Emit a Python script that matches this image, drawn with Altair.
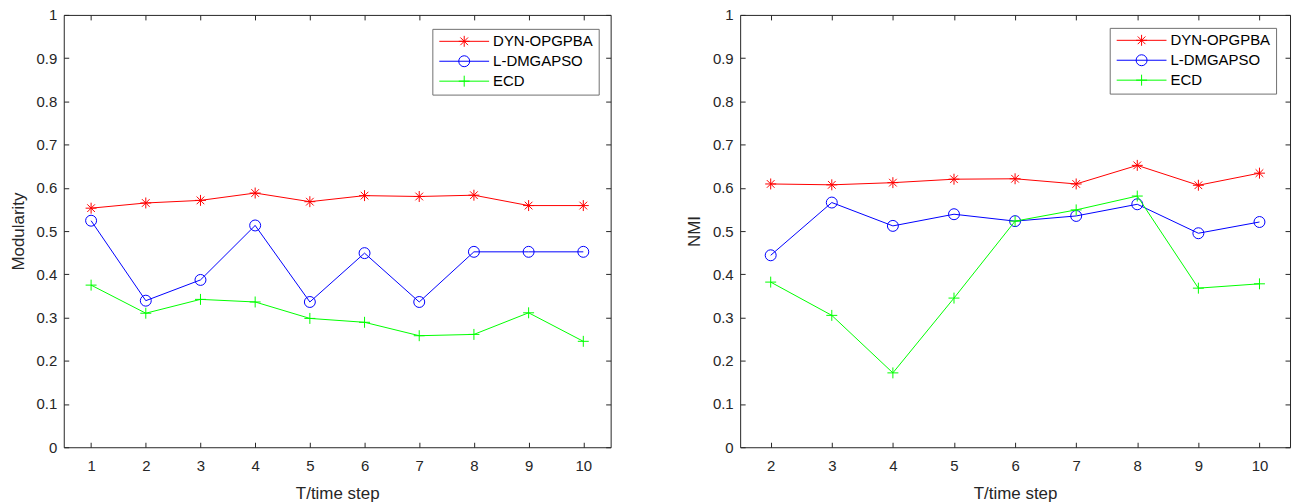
import altair as alt
import pandas as pd

series_names = ["DYN-OPGPBA", "L-DMGAPSO", "ECD"]
series_colors = ["#ff0000", "#0000ff", "#00ff00"]

steps_mod = [1, 2, 3, 4, 5, 6, 7, 8, 9, 10]
mod_dyn = [0.553, 0.565, 0.571, 0.588, 0.568, 0.582, 0.580, 0.583, 0.559, 0.559]
mod_ldm = [0.524, 0.339, 0.387, 0.513, 0.336, 0.449, 0.336, 0.452, 0.452, 0.452]
mod_ecd = [0.375, 0.310, 0.342, 0.336, 0.298, 0.289, 0.258, 0.261, 0.311, 0.245]

steps_nmi = [2, 3, 4, 5, 6, 7, 8, 9, 10]
nmi_dyn = [0.609, 0.607, 0.612, 0.620, 0.621, 0.609, 0.652, 0.606, 0.634]
nmi_ldm = [0.444, 0.566, 0.512, 0.539, 0.523, 0.535, 0.562, 0.495, 0.521]
nmi_ecd = [0.382, 0.305, 0.172, 0.345, 0.523, 0.549, 0.581, 0.368, 0.378]

y_ticks = [0, 0.1, 0.2, 0.3, 0.4, 0.5, 0.6, 0.7, 0.8, 0.9, 1]
x_title = "T/time step"

STAR = "M0,-1L0,1M-1,0L1,0M-0.7,-0.7L0.7,0.7M-0.7,0.7L0.7,-0.7"
CIRCLE = "M1,0A1,1 0 1,1 -1,0A1,1 0 1,1 1,0Z"
PLUS = "M0,-1L0,1M-1,0L1,0"
marker_paths = [STAR, CIRCLE, PLUS]

# legend glyphs: a line sample with the marker in its middle (shifted right
# so the sample starts where the legend entry starts)
LEG_LINE = "M-1,0L8.09,0"
LEG_STAR = "M3.545,-1L3.545,1M2.545,0L4.545,0M2.845,-0.7L4.245,0.7M2.845,0.7L4.245,-0.7"
LEG_CIRCLE = "M4.545,0A1,1 0 1,1 2.545,0A1,1 0 1,1 4.545,0Z"
LEG_PLUS = "M3.545,-1L3.545,1M2.545,0L4.545,0"
legend_paths = [LEG_LINE + LEG_STAR, LEG_LINE + LEG_CIRCLE, LEG_LINE + LEG_PLUS]

FONT = "Liberation Sans"
INK = "#262626"


def long_df(steps, values_list):
    rows = []
    for name, vals in zip(series_names, values_list):
        for s, v in zip(steps, vals):
            rows.append({"step": s, "value": v, "series": name})
    return pd.DataFrame(rows)


def panel(df, x_domain, x_ticks, y_title, width, legend_x, legend_y):
    x_scale = alt.Scale(domain=x_domain, nice=False, zero=False)
    y_scale = alt.Scale(domain=[0, 1], nice=False, zero=False)
    color_scale = alt.Scale(domain=series_names, range=series_colors)
    base = alt.Chart(df)

    layers = []
    for i, (name, col, path) in enumerate(zip(series_names, series_colors, marker_paths)):
        if i == 0:
            lx = alt.Axis(orient="bottom", values=x_ticks, title=x_title,
                          offset=-5, domain=False, tickSize=5,
                          labelPadding=11, titlePadding=12, grid=False)
            ly = alt.Axis(orient="left", values=y_ticks, title=y_title,
                          format="~g", offset=-5, domain=False, tickSize=5,
                          labelPadding=7, titlePadding=9, grid=False)
            mx = alt.Axis(orient="top", values=x_ticks, labels=False, title=None,
                          offset=-5, domain=False, tickSize=5, grid=False)
            my = alt.Axis(orient="right", values=y_ticks, labels=False, title=None,
                          offset=-5, domain=False, tickSize=5, grid=False)
        else:
            lx = ly = mx = my = None
        sub = base.transform_filter(alt.datum.series == name)
        line = sub.mark_line(strokeWidth=1, color=col).encode(
            x=alt.X("step:Q", scale=x_scale, axis=lx),
            y=alt.Y("value:Q", scale=y_scale, axis=ly),
        )
        pts = sub.mark_point(
            shape=path, size=121, filled=False, color=col, strokeWidth=1, opacity=1
        ).encode(
            x=alt.X("step:Q", scale=x_scale, axis=mx),
            y=alt.Y("value:Q", scale=y_scale, axis=my),
        )
        layers.extend([line, pts])

    leg = alt.Legend(title=None, orient="none", legendX=legend_x, legendY=legend_y,
                     fillColor="white", strokeColor="#707070", padding=5,
                     labelFont=FONT, labelFontSize=15, labelColor="black",
                     symbolSize=121, symbolStrokeWidth=1, labelOffset=41,
                     rowPadding=4)
    legend_layer = base.transform_filter("false").mark_point(
        filled=False, opacity=1, strokeWidth=1, size=121
    ).encode(
        x=alt.X("step:Q", scale=x_scale, axis=None),
        y=alt.Y("value:Q", scale=y_scale, axis=None),
        color=alt.Color("series:N", scale=color_scale, legend=leg),
        shape=alt.Shape("series:N", scale=alt.Scale(domain=series_names, range=legend_paths),
                        legend=leg),
    )
    layers.append(legend_layer)

    return alt.layer(*layers).resolve_axis(x="independent", y="independent").resolve_scale(
        color="independent", shape="independent"
    ).properties(width=width, height=434)


left = panel(long_df(steps_mod, [mod_dyn, mod_ldm, mod_ecd]), [0.5, 10.5], steps_mod,
             "Modularity", 549, 370, 14)
right = panel(long_df(steps_nmi, [nmi_dyn, nmi_ldm, nmi_ecd]), [1.5, 10.5], steps_nmi,
              "NMI", 552, 371, 13)

chart = alt.hconcat(left, right, spacing=73).resolve_scale(
    color="independent", shape="independent"
).resolve_legend(color="independent", shape="independent").properties(
    padding={"left": 8, "top": 6, "right": 5, "bottom": 1},
    background="white",
).configure_axis(
    labelFont=FONT, labelFontSize=15, labelColor=INK,
    titleFont=FONT, titleFontSize=17, titleColor=INK, titleFontWeight="normal",
    tickColor=INK, tickWidth=1,
).configure_view(stroke=INK, strokeWidth=1)

chart.save("out.html", embed_options={"renderer": "svg", "actions": False})
